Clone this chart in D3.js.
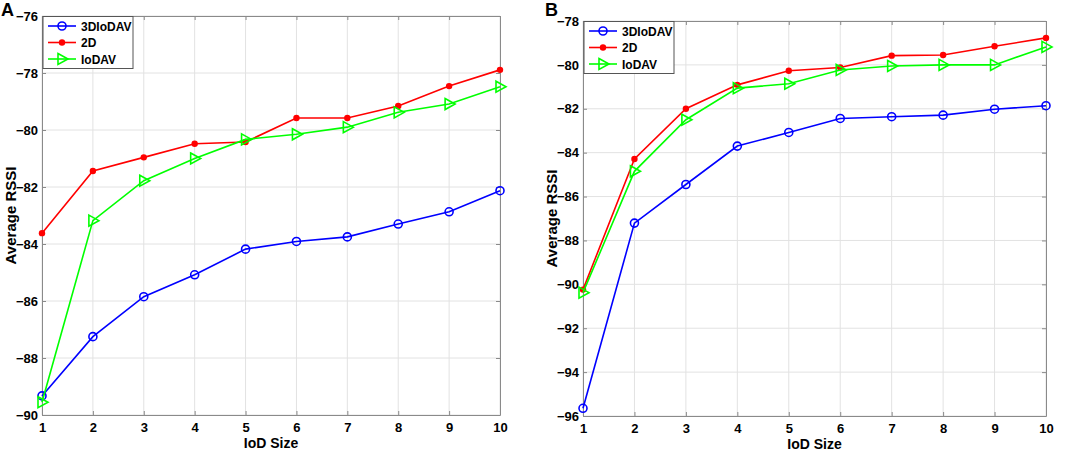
<!DOCTYPE html>
<html>
<head>
<meta charset="utf-8">
<script src="https://cdn.jsdelivr.net/npm/d3@7"></script>
<style>
  body { margin: 0; background: #fff; }
  text { font-family: "Liberation Sans", Arial, sans-serif; font-weight: bold; fill: #000; }
</style>
</head>
<body>
<script>
// IoD sizes on the x axis
var iodSizes = [1, 2, 3, 4, 5, 6, 7, 8, 9, 10];
var seriesNames = ["3DIoDAV", "2D", "IoDAV"];

// panel A values
var a3DIoDAV = [-89.33, -87.25, -85.85, -85.08, -84.18, -83.91, -83.75, -83.30, -82.87, -82.13];
var a2D      = [-83.62, -81.44, -80.96, -80.48, -80.42, -79.58, -79.58, -79.16, -78.46, -77.89];
var aIoDAV   = [-89.55, -83.18, -81.78, -81.00, -80.33, -80.15, -79.90, -79.38, -79.09, -78.48];
var aTicks   = [-90, -88, -86, -84, -82, -80, -78, -76];

// panel B values
var b3DIoDAV = [-95.65, -87.21, -85.45, -83.70, -83.08, -82.44, -82.36, -82.29, -82.02, -81.86];
var b2D      = [-90.24, -84.29, -82.00, -80.91, -80.27, -80.12, -79.58, -79.55, -79.15, -78.77];
var bIoDAV   = [-90.38, -84.85, -82.50, -81.06, -80.86, -80.23, -80.05, -80.00, -80.00, -79.18];
var bTicks   = [-96, -94, -92, -90, -88, -86, -84, -82, -80, -78];

var colors = {"3DIoDAV": "#0000ff", "2D": "#ff0000", "IoDAV": "#00ff00"};

var svg = d3.select("body").append("svg")
    .attr("width", 1065)
    .attr("height", 452);

function drawPanel(opt) {
    var x = d3.scaleLinear().domain([1, 10]).range([opt.left, opt.right]);
    var y = d3.scaleLinear().domain(d3.extent(opt.ticks)).range([opt.bottom, opt.top]);
    var g = svg.append("g");

    // grid
    g.append("g").selectAll("line.gx").data(iodSizes).enter().append("line")
        .attr("x1", d => x(d)).attr("x2", d => x(d))
        .attr("y1", opt.top).attr("y2", opt.bottom)
        .attr("stroke", "#e2e2e2").attr("stroke-width", 1);
    g.append("g").selectAll("line.gy").data(opt.ticks).enter().append("line")
        .attr("x1", opt.left).attr("x2", opt.right)
        .attr("y1", d => y(d)).attr("y2", d => y(d))
        .attr("stroke", "#e2e2e2").attr("stroke-width", 1);

    // axes with inward ticks on all four sides
    var axB = g.append("g").attr("transform", "translate(0," + opt.bottom + ")")
        .call(d3.axisBottom(x).tickValues(iodSizes).tickSizeInner(-4).tickSizeOuter(0).tickPadding(8));
    var axT = g.append("g").attr("transform", "translate(0," + opt.top + ")")
        .call(d3.axisTop(x).tickValues(iodSizes).tickSizeInner(-4).tickSizeOuter(0).tickFormat(""));
    var axL = g.append("g").attr("transform", "translate(" + opt.left + ",0)")
        .call(d3.axisLeft(y).tickValues(opt.ticks).tickSizeInner(-4).tickSizeOuter(0).tickPadding(4));
    var axR = g.append("g").attr("transform", "translate(" + opt.right + ",0)")
        .call(d3.axisRight(y).tickValues(opt.ticks).tickSizeInner(-4).tickSizeOuter(0).tickFormat(""));
    [axB, axT, axL, axR].forEach(function(a) {
        a.selectAll("path, line").attr("stroke", "#8a8a8a").attr("stroke-width", 1);
        a.selectAll("text").style("font-size", "13px").style("font-family", "Liberation Sans, Arial, sans-serif")
            .style("font-weight", "bold").attr("fill", "#000");
    });

    // series
    var series = [
        {name: "3DIoDAV", values: opt.s3D},
        {name: "2D", values: opt.s2D},
        {name: "IoDAV", values: opt.sIoD}
    ];
    var line = d3.line().x((d, i) => x(iodSizes[i])).y(d => y(d));
    series.forEach(function(s) {
        g.append("path").datum(s.values)
            .attr("d", line)
            .attr("fill", "none")
            .attr("stroke", colors[s.name])
            .attr("stroke-width", 1.6);
        var pts = g.append("g").selectAll("g").data(s.values).enter().append("g")
            .attr("transform", (d, i) => "translate(" + x(iodSizes[i]) + "," + y(d) + ")");
        drawMarker(pts, s.name);
    });

    // legend
    var leg = g.append("g");
    leg.append("rect")
        .attr("x", opt.left + 1).attr("y", opt.top + 0.5)
        .attr("width", 90).attr("height", 52)
        .attr("fill", "#fff").attr("stroke", "#555").attr("stroke-width", 1);
    seriesNames.forEach(function(name, i) {
        var ly = opt.top + 10 + i * 16.5;
        leg.append("line")
            .attr("x1", opt.left + 6).attr("x2", opt.left + 34)
            .attr("y1", ly).attr("y2", ly)
            .attr("stroke", colors[name]).attr("stroke-width", 1.6);
        var m = leg.append("g").attr("transform", "translate(" + (opt.left + 20) + "," + ly + ")");
        drawMarker(m, name);
        leg.append("text")
            .attr("x", opt.left + 39).attr("y", ly + 4.5)
            .style("font-size", "12px")
            .text(name);
    });

    // labels
    g.append("text")
        .attr("x", (opt.left + opt.right) / 2).attr("y", opt.bottom + 33)
        .attr("text-anchor", "middle")
        .style("font-size", "14px")
        .text("IoD Size");
    g.append("text")
        .attr("transform", "translate(" + (opt.left - 26) + "," + ((opt.top + opt.bottom) / 2) + ") rotate(-90)")
        .attr("text-anchor", "middle")
        .style("font-size", "15px")
        .text("Average RSSI");
    g.append("text")
        .attr("x", opt.letterX).attr("y", opt.letterY)
        .style("font-size", "18px")
        .text(opt.letter);
}

function drawMarker(sel, name) {
    var c = colors[name];
    if (name === "3DIoDAV") {
        sel.append("circle").attr("r", 4).attr("fill", "none")
            .attr("stroke", c).attr("stroke-width", 1.6);
    } else if (name === "2D") {
        sel.append("circle").attr("r", 3.2).attr("fill", c);
    } else {
        sel.append("path").attr("d", "M-4,-5.5L6,0L-4,5.5Z")
            .attr("fill", "none").attr("stroke", c).attr("stroke-width", 1.6);
    }
}

drawPanel({left: 42, right: 500, top: 16, bottom: 415, ticks: aTicks,
    s3D: a3DIoDAV, s2D: a2D, sIoD: aIoDAV, letter: "A", letterX: 1, letterY: 16});
drawPanel({left: 583, right: 1046, top: 21, bottom: 416, ticks: bTicks,
    s3D: b3DIoDAV, s2D: b2D, sIoD: bIoDAV, letter: "B", letterX: 545, letterY: 16});
</script>
</body>
</html>
